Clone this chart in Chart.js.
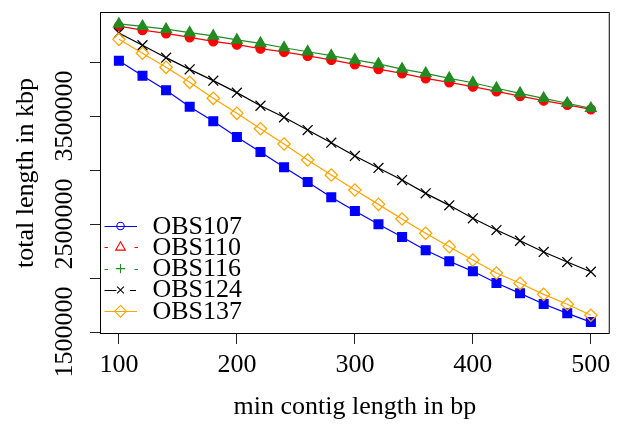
<!DOCTYPE html>
<html><head><meta charset="utf-8">
<script src="https://cdn.jsdelivr.net/npm/chart.js@4.4.1/dist/chart.umd.min.js"></script>
<style>html,body{margin:0;padding:0;background:#fff;}canvas{display:block;}</style>
</head><body>
<canvas id="c" width="618" height="425"></canvas>
<script>
// ---- data ----
const minContigLength = [100,120,140,160,180,200,220,240,260,280,300,320,340,360,380,400,420,440,460,480,500];
const obs107 = [4012000,3873000,3738000,3586000,3451000,3306000,3167000,3025000,2889000,2747000,2620000,2497000,2380000,2257000,2155000,2062000,1954000,1858000,1759000,1673000,1592000];
const obs110 = [4333000,4296000,4266000,4229000,4192000,4160000,4123000,4093000,4056000,4019000,3979000,3935000,3895000,3849000,3812000,3771000,3729000,3685000,3642000,3602000,3562000];
const obs116 = [4352000,4330000,4304000,4271000,4241000,4204000,4173000,4132000,4095000,4058000,4019000,3982000,3935000,3895000,3849000,3808000,3757000,3710000,3664000,3618000,3571000];
const obs124 = [4269000,4155000,4040000,3932000,3827000,3716000,3595000,3488000,3370000,3253000,3130000,3019000,2907000,2784000,2673000,2553000,2444000,2345000,2241000,2148000,2058000];
const obs137 = [4210000,4081000,3951000,3812000,3664000,3525000,3382000,3241000,3093000,2954000,2815000,2682000,2546000,2414000,2290000,2167000,2046000,1951000,1849000,1757000,1655000];
const seriesNames = ['OBS107','OBS110','OBS116','OBS124','OBS137'];
const xTickValues = [100,200,300,400,500];
const yTickValues = [1500000,2000000,2500000,3000000,3500000,4000000];
const yTickLabels = [1500000,2500000,3500000];
const xTitle = 'min contig length in bp';
const yTitle = 'total length in kbp';

// ---- styles ----
const FONT_FAMILY = "'Liberation Serif','Times New Roman',serif";
const seriesValues = [obs107, obs110, obs116, obs124, obs137];
const plotStyles = [
  {color:'#0000FF', pointStyle:'rect', radius:6.2, fill:'#0000FF', order:5},
  {color:'#FF0000', pointStyle:'circle', radius:4.5, fill:'#FF0000', order:4},
  {color:'#228B22', pointStyle:'triangle', radius:6.2, fill:'#228B22', order:3},
  {color:'#000000', pointStyle:'crossRot', radius:7, fill:'rgba(0,0,0,0)', order:2},
  {color:'#FFA500', pointStyle:'rectRot', radius:6.2, fill:'rgba(0,0,0,0)', order:1}
];
const legendStyles = [
  {color:'#0000FF', marker:'circle', r:3.7, segs:[[104.5,137]]},
  {color:'#FF0000', marker:'triangle', r:5.6, segs:[[104.5,108],[134.5,138]]},
  {color:'#228B22', marker:'plus', r:4.7, segs:[[104.5,108],[134.5,138]]},
  {color:'#000000', marker:'x', r:3.4, segs:[[104.5,116.5],[130,136]]},
  {color:'#FFA500', marker:'diamond', r:5.9, segs:[[104.5,137]]}
];

const datasets = seriesNames.map((name, i) => ({
  label: name,
  data: minContigLength.map((x, j) => ({x: x, y: seriesValues[i][j]})),
  borderColor: plotStyles[i].color,
  borderWidth: 1.25,
  showLine: true,
  tension: 0,
  fill: false,
  pointStyle: plotStyles[i].pointStyle,
  pointRadius: plotStyles[i].radius,
  pointBackgroundColor: plotStyles[i].fill,
  pointBorderColor: plotStyles[i].color,
  pointBorderWidth: 1.25,
  order: plotStyles[i].order,
  clip: false
}));

const boxPlugin = {
  id: 'box',
  afterDraw(chart) {
    const ca = chart.chartArea, ctx = chart.ctx;
    ctx.save();
    ctx.strokeStyle = '#000';
    ctx.lineWidth = 1;
    ctx.strokeRect(ca.left + 0.5, ca.top + 0.5, ca.right - ca.left - 1, ca.bottom - ca.top - 1);
    ctx.restore();
  }
};

const legendPlugin = {
  id: 'rlegend',
  afterDraw(chart) {
    const ctx = chart.ctx;
    ctx.save();
    seriesNames.forEach((name, i) => {
      const st = legendStyles[i];
      const y = 226 + i * 21.33;
      const ly = Math.round(y) + 0.5;
      const xm = 120.5;
      ctx.strokeStyle = st.color;
      ctx.lineWidth = 1.1;
      ctx.beginPath();
      st.segs.forEach(s => { ctx.moveTo(s[0], ly); ctx.lineTo(s[1], ly); });
      ctx.stroke();
      ctx.beginPath();
      const r = st.r;
      if (st.marker === 'circle') {
        ctx.arc(xm, y, r, 0, Math.PI * 2);
      } else if (st.marker === 'triangle') {
        const h = r * Math.sqrt(3) / 2;
        ctx.moveTo(xm, y - r);
        ctx.lineTo(xm + h, y + r / 2);
        ctx.lineTo(xm - h, y + r / 2);
        ctx.closePath();
      } else if (st.marker === 'plus') {
        ctx.moveTo(xm - r, y); ctx.lineTo(xm + r, y);
        ctx.moveTo(xm, y - r); ctx.lineTo(xm, y + r);
      } else if (st.marker === 'x') {
        ctx.moveTo(xm - r, y - r); ctx.lineTo(xm + r, y + r);
        ctx.moveTo(xm - r, y + r); ctx.lineTo(xm + r, y - r);
      } else if (st.marker === 'diamond') {
        ctx.moveTo(xm, y - r); ctx.lineTo(xm + r, y);
        ctx.lineTo(xm, y + r); ctx.lineTo(xm - r, y);
        ctx.closePath();
      }
      ctx.stroke();
      ctx.fillStyle = '#000';
      ctx.font = '26px ' + FONT_FAMILY;
      ctx.textBaseline = 'alphabetic';
      ctx.textAlign = 'left';
      ctx.fillText(name, 152.5, y + 7.5);
    });
    ctx.restore();
  }
};

new Chart(document.getElementById('c'), {
  type: 'line',
  data: { datasets: datasets },
  options: {
    responsive: false,
    animation: false,
    devicePixelRatio: 1,
    events: [],
    layout: { padding: { top: 12, right: 6, left: 0, bottom: 0 } },
    plugins: { legend: { display: false }, tooltip: { enabled: false } },
    scales: {
      x: {
        type: 'linear',
        min: 84, max: 516,
        afterBuildTicks: s => { s.ticks = xTickValues.map(v => ({value: v})); },
        afterFit: s => { s.height = 91; },
        grid: { display: true, drawOnChartArea: false, drawTicks: true, tickLength: 10, color: '#222', lineWidth: 1 },
        border: { display: false },
        ticks: { color: '#000', font: { family: FONT_FAMILY, size: 26, lineHeight: 1.2 }, padding: 6, maxRotation: 0, minRotation: 0, autoSkip: false, callback: v => String(v) },
        title: { display: true, text: xTitle, color: '#000', font: { family: FONT_FAMILY, size: 26, lineHeight: 1.2 }, padding: { top: 0, bottom: 2 } }
      },
      y: {
        type: 'linear',
        min: 1481500, max: 4463000,
        afterBuildTicks: s => { s.ticks = yTickValues.map(v => ({value: v})); },
        afterFit: s => { s.width = 100; },
        grid: { display: true, drawOnChartArea: false, drawTicks: true, tickLength: 10, color: '#222', lineWidth: 1 },
        border: { display: false },
        ticks: { color: '#000', font: { family: FONT_FAMILY, size: 26, lineHeight: 1.2 }, padding: -21, minRotation: 90, maxRotation: 90, crossAlign: 'center', autoSkip: false,
          callback: v => yTickLabels.includes(v) ? String(v) : '' },
        title: { display: true, text: yTitle, color: '#000', font: { family: FONT_FAMILY, size: 26, lineHeight: 1.2 }, padding: { top: 10.6, bottom: 0 } }
      }
    }
  },
  plugins: [boxPlugin, legendPlugin]
});
</script>
</body></html>
